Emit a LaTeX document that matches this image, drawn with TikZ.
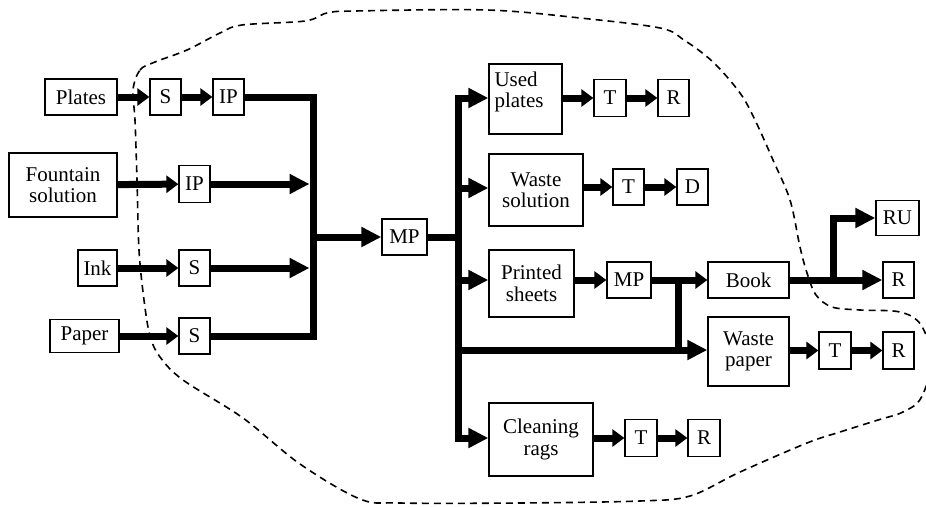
\documentclass[tikz,border=0pt]{standalone}
\usepackage{fontspec}
\setmainfont{Liberation Serif}
\usetikzlibrary{arrows.meta}
\begin{document}
\begin{tikzpicture}[x=1pt,y=-1pt,
  box/.style={draw, line width=1.3pt, inner sep=0pt, align=center, font=\fontsize{21}{21.5}\selectfont},
  wh/.style 2 args={minimum width=#1pt, minimum height=#2pt},
  flow/.style={line width=7pt, -{Triangle[length=12pt,width=17pt]}},
  bigflow/.style={line width=7pt, -{Triangle[length=20pt,width=19pt]}},
  bus/.style={line width=7pt, line join=miter},
  boundary/.style={line width=1.6pt, dash pattern=on 7pt off 5pt},
]
\useasboundingbox (0,0) rectangle (926,506);

% boundary
\draw[boundary] plot[smooth cycle, tension=0.55] coordinates {
 (133,90) (140,70) (155,62) (187,50) (220,33) (242,25) (305,21) (327,13) (355,11)
 (487,10) (580,18) (660,28) (684,40) (713,62) (740,93) (755,120) (773,160) (790,200)
 (800,247) (807,273) (816,295) (832,307) (860,310) (900,312) (921,325) (932,360)
 (921,398) (903,412) (878,420) (840,432) (807,443) (740,472) (690,496) (640,501)
 (520,503) (400,503) (360,499) (300,464) (243,418) (183,380) (160,357) (150,336)
 (144,300) (139,250) (137,180) (135,120)};

% left inputs
\node[box, wh={72}{36}] (plates) at (81,97) {Plates};
\node[box, wh={31}{36}] (s1) at (165.5,97) {S};
\node[box, wh={31}{36}] (ip1) at (228.5,97) {IP};
\node[box, wh={108}{64}] (fount) at (63,185) {Fountain\\solution};
\node[box, wh={31}{37}] (ip2) at (194.5,184) {IP};
\node[box, wh={39}{36}] (ink) at (97.5,268) {Ink};
\node[box, wh={31}{36}] (s3) at (194.5,268) {S};
\node[box, wh={69}{33}] (paper) at (84.5,336) {Paper};
\node[box, wh={31}{36}] (s4) at (194.5,336) {S};
\node[box, wh={45}{36}] (mp1) at (404.5,237) {MP};

\coordinate (lb) at (313,336);
\coordinate (j2) at (309.5,184);
\coordinate (j3) at (309.5,268);
\coordinate (lm) at (313,237);

\draw[flow] (plates) -- (s1);
\draw[flow] (s1) -- (ip1);
\draw[bus] (ip1.east) -| (lb) -- (s4.east);
\draw[flow] (fount) -- (ip2);
\draw[bigflow] (ip2) -- (j2);
\draw[flow] (ink) -- (s3);
\draw[bigflow] (s3) -- (j3);
\draw[flow] (paper) -- (s4);
\draw[bigflow] (lm) -- (mp1);

% right side
\node[box, wh={73}{70}, text width=62pt, align=left, text depth=40pt] (up) at (525.5,99) {Used\\plates};
\node[box, wh={32}{37}] (t1) at (610,98) {T};
\node[box, wh={31}{37}] (r1) at (673.5,98) {R};
\node[box, wh={94}{72}] (ws) at (536,190) {Waste\\solution};
\node[box, wh={31}{36}] (t2) at (628.5,187) {T};
\node[box, wh={31}{36}] (d) at (692.5,187) {D};
\node[box, wh={85}{67}] (ps) at (531.5,283.5) {Printed\\sheets};
\node[box, wh={44}{36}] (mp2) at (629,280) {MP};
\node[box, wh={81}{36}] (book) at (748.5,280) {Book};
\node[box, wh={31}{36}] (r3) at (898.5,280) {R};
\node[box, wh={43}{35}] (ru) at (897.5,218) {RU};
\node[box, wh={81}{69}] (wp) at (748.5,351.5) {Waste\\paper};
\node[box, wh={32}{37}] (t4) at (835,350.5) {T};
\node[box, wh={31}{37}] (r4) at (898.5,350.5) {R};
\node[box, wh={104}{73}] (cr) at (541,439.5) {Cleaning\\rags};
\node[box, wh={32}{37}] (t5) at (641,438) {T};
\node[box, wh={32}{37}] (r5) at (704,438) {R};

\coordinate (rm) at (458,237);
\coordinate (rb2) at (458,188);
\coordinate (rb3) at (458,280);
\coordinate (rb4) at (458,350);
\coordinate (jb) at (678,280);
\coordinate (jw) at (678,350);
\coordinate (jr) at (833,280);

\draw[bus] (mp1.east) -- (rm);
\draw[bigflow, line join=miter] (rm) |- (t1.west -| up.west);
\draw[bigflow, line join=miter] (rm) |- (t5.west -| cr.west);
\draw[bigflow] (rb2) -- (rb2 -| ws.west);
\draw[bigflow] (rb3) -- (rb3 -| ps.west);
\draw[bigflow] (rb4) -- (rb4 -| wp.west);

\draw[flow] (t1.west -| up.east) -- (t1.west);
\draw[flow] (t1) -- (r1);
\draw[flow] (t2.west -| ws.east) -- (t2.west);
\draw[flow] (t2) -- (d);
\draw[flow] (mp2.west -| ps.east) -- (mp2.west);
\draw[flow] (mp2) -- (book);
\draw[bus] (jb) -- (jw);
\draw[bigflow] (book) -- (r3);
\draw[bigflow, line join=miter] (jr) |- (ru);
\draw[flow] (t4.west -| wp.east) -- (t4.west);
\draw[flow] (t4) -- (r4);
\draw[flow] (t5.west -| cr.east) -- (t5.west);
\draw[flow] (t5) -- (r5);
\end{tikzpicture}
\end{document}
